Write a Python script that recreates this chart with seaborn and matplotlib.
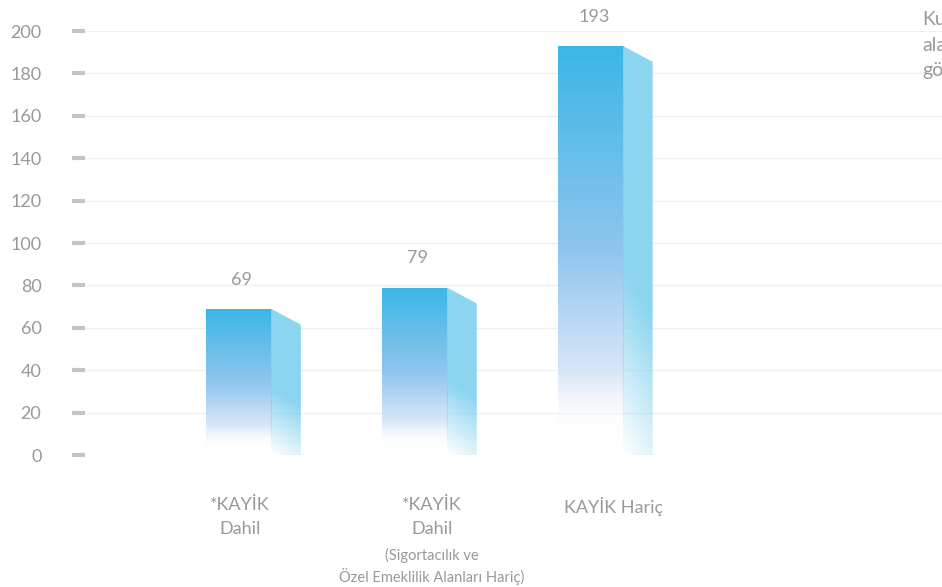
import numpy as np
import pandas as pd
import seaborn as sns
import matplotlib
matplotlib.use("Agg")
from matplotlib import pyplot as plt
from matplotlib.patches import Polygon
from matplotlib.colors import to_rgb

# chart data
categories = ["*KAYİK\nDahil", "*KAYİK\nDahil ", "KAYİK Hariç"]
values = [69, 79, 193]
value_labels = ["69", "79", "193"]
sub_note = "(Sigortacılık ve\nÖzel Emeklilik Alanları Hariç)"
y_ticks = [0, 20, 40, 60, 80, 100, 120, 140, 160, 180, 200]
side_note = "Kurumsal\nalanlar\ngöre"

sns.set_theme(style="white")
plt.rcParams["font.family"] = ["Lato", "DejaVu Sans"]

grey = "#999999"
front_top = to_rgb("#3ab7e6")
front_mid = to_rgb("#8fc5ee")
front_low = to_rgb("#d8e7f8")
side_col = to_rgb("#86d3f0")

fig = plt.figure(figsize=(9.42, 5.87), dpi=100)
ax = fig.add_axes([72 / 942, 132 / 587, 870 / 942, 424 / 587])

df = pd.DataFrame({"cat": categories, "val": values})
sns.barplot(data=df, x="cat", y="val", width=0.37, color=front_top, ax=ax)

side_w = 0.17
drop = 7.5


def front_img(n=200):
    t = np.linspace(0, 1, n)  # 0 top -> 1 bottom
    img = np.zeros((n, 1, 4))
    for k in range(3):
        img[:, 0, k] = np.interp(t, [0, 0.5, 0.8, 0.95],
                                 [front_top[k], front_mid[k], front_low[k], 1.0])
    img[:, 0, 3] = np.interp(t, [0, 0.8, 0.97], [1, 1, 0.0])
    return img


def side_img(n=200, m=40):
    yy = np.linspace(0, 1, n)[:, None]
    xx = np.linspace(0, 1, m)[None, :]
    s = yy - 0.12 * xx
    img = np.zeros((n, m, 4))
    img[..., :3] = side_col
    img[..., 3] = np.interp(s, [0, 0.55, 1.0], [0.95, 0.95, 0.0])
    return img


for patch, v, lab in zip(ax.patches, values, value_labels):
    x0 = patch.get_x()
    x1 = x0 + patch.get_width()
    patch.set_facecolor("none")
    patch.set_edgecolor("none")
    im = ax.imshow(front_img(), extent=[x0, x1, 0, v], aspect="auto",
                   origin="upper", zorder=3, interpolation="bilinear")
    im.set_clip_path(patch)
    side = Polygon([[x1, v], [x1 + side_w, v - drop], [x1 + side_w, 0], [x1, 0]],
                   closed=True, facecolor="none", edgecolor="none")
    ax.add_patch(side)
    im2 = ax.imshow(side_img(), extent=[x1, x1 + side_w, 0, v], aspect="auto",
                    origin="upper", zorder=3, interpolation="bilinear")
    im2.set_clip_path(side)
    ax.annotate(lab, ((x0 + x1) / 2 + 0.02, v), xytext=(0, 21),
                textcoords="offset points", ha="center", va="center",
                color=grey, fontsize=13, annotation_clip=False)

ax.set_xlim(-0.946, 4.0)
ax.set_ylim(0, 200)
ax.set_yticks(y_ticks)
ax.set_yticklabels([str(t) for t in y_ticks])
ax.set_xticks([])
ax.set_xlabel("")
ax.set_ylabel("")
ax.yaxis.grid(True, color="#f0f0f0", linewidth=1)
ax.set_axisbelow(True)
for sp in ax.spines.values():
    sp.set_visible(False)
ax.tick_params(axis="y", left=True, direction="in", length=9.5, width=3,
               color="#c4c4c4", pad=22, labelsize=13, labelcolor=grey)

# category labels below the axis
label_shift = [0.01, 0.1, 0.13]
for i, (c, dx) in enumerate(zip(categories, label_shift)):
    ax.text(i + dx, -20, c.strip(), ha="center", va="top", color=grey,
            fontsize=13, linespacing=1.55, clip_on=False)
ax.text(1 + 0.1, -44, sub_note, ha="center", va="top", color=grey,
        fontsize=10.5, linespacing=1.35, clip_on=False)

fig.text(922 / 942, 1 - 11 / 587, side_note, ha="left", va="top", color=grey,
         fontsize=14, linespacing=1.62)

fig.savefig("out.png", dpi=100)
